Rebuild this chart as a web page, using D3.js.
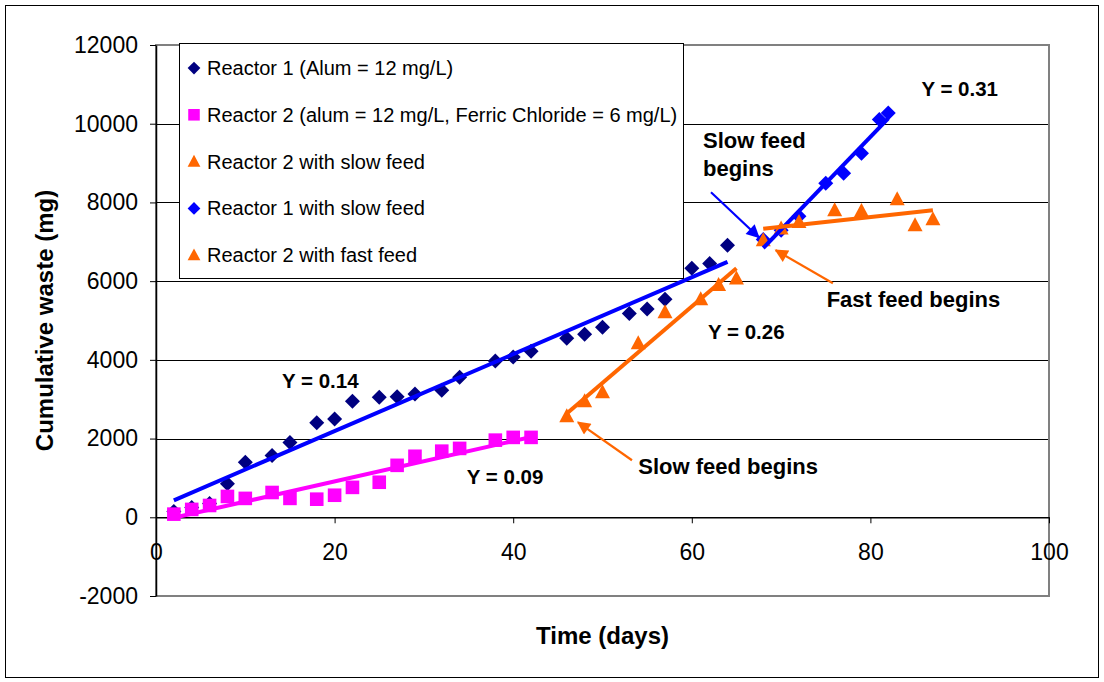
<!DOCTYPE html>
<html>
<head>
<meta charset="utf-8">
<script src="https://cdn.jsdelivr.net/npm/d3@7"></script>
<style>
  html, body { margin: 0; padding: 0; background: #fff; }
  svg { display: block; font-family: "Liberation Sans", Arial, sans-serif; }
</style>
</head>
<body>
<svg id="chart" width="1104" height="682"></svg>
<script>
// Cumulative waste vs time, five series + linear trendlines

const days1  = [2, 4, 6, 8, 10, 13, 15, 18, 20, 22, 25, 27, 29, 32, 34, 38, 40, 42, 46, 48, 50, 53, 55, 57, 60, 62, 64];
const waste1 = [150, 250, 350, 850, 1400, 1570, 1900, 2400, 2500, 2950, 3050, 3060, 3130, 3230, 3560, 3970, 4070, 4220, 4550, 4650, 4830, 5180, 5290, 5540, 6330, 6450, 6910];

const days2  = [2, 4, 6, 8, 10, 13, 15, 18, 20, 22, 25, 27, 29, 32, 34, 38, 40, 42];
const waste2 = [80, 200, 300, 530, 480, 630, 480, 460, 560, 760, 890, 1320, 1550, 1680, 1750, 1960, 2030, 2030];

const daysSlow2  = [46, 48, 50, 54, 57, 61, 63, 65];
const wasteSlow2 = [2570, 2950, 3180, 4420, 5210, 5540, 5900, 6070];

const daysSlow1  = [68, 70, 72, 75, 77, 79, 81, 82];
const wasteSlow1 = [7060, 7290, 7650, 8490, 8740, 9250, 10110, 10270];

const daysFast2  = [68, 70, 72, 76, 79, 83, 85, 87];
const wasteFast2 = [7040, 7340, 7500, 7800, 7780, 8080, 7420, 7570];

const seriesNames = [
  'Reactor 1 (Alum = 12 mg/L)',
  'Reactor 2 (alum = 12 mg/L, Ferric Chloride = 6 mg/L)',
  'Reactor 2 with slow feed',
  'Reactor 1 with slow feed',
  'Reactor 2 with fast feed'
];

const xTicks = [0, 20, 40, 60, 80, 100];
const yTicks = [-2000, 0, 2000, 4000, 6000, 8000, 10000, 12000];

// annotations, in data units (day, mg)
const slopeLabels = [
  { text: 'Y = 0.14', day: 18.4, mg: 3456 },
  { text: 'Y = 0.09', day: 39.1, mg: 1017 },
  { text: 'Y = 0.26', day: 66.1, mg: 4701 },
  { text: 'Y = 0.31', day: 90.0, mg: 10877 }
];
const noteLabels = [
  { text: 'Slow feed', day: 61.25, mg: 9377 },
  { text: 'begins',    day: 61.25, mg: 8666 },
  { text: 'Fast feed begins', day: 75.1, mg: 5337 },
  { text: 'Slow feed begins', day: 54.0, mg: 1093 }
];
const arrows = [
  { from: [62.15, 8259], to: [67.5, 7116], color: '#0000FF' },
  { from: [75.8, 5947],  to: [69.4, 6785], color: '#FF6600' },
  { from: [53.3, 1449],  to: [47.26, 2414], color: '#FF6600' }
];

const NAVY = '#000080', MAGENTA = '#FF00FF', ORANGE = '#FF6600', BLUE = '#0000FF';

const series = [
  { name: seriesNames[0], xs: days1,     ys: waste1,     shape: 'diamond',  color: NAVY,    line: BLUE },
  { name: seriesNames[1], xs: days2,     ys: waste2,     shape: 'square',   color: MAGENTA, line: MAGENTA },
  { name: seriesNames[2], xs: daysSlow2, ys: wasteSlow2, shape: 'triangle', color: ORANGE,  line: ORANGE },
  { name: seriesNames[3], xs: daysSlow1, ys: wasteSlow1, shape: 'diamond',  color: BLUE,    line: BLUE },
  { name: seriesNames[4], xs: daysFast2, ys: wasteFast2, shape: 'triangle', color: ORANGE,  line: ORANGE }
];

const svg = d3.select('#chart');
const plot = { left: 156, right: 1049, top: 45, bottom: 596 };

const x = d3.scaleLinear().domain([0, 100]).range([plot.left, plot.right]);
const y = d3.scaleLinear().domain([-2000, 12000]).range([plot.bottom, plot.top]);

// outer frame
svg.append('rect')
  .attr('x', 5.5).attr('y', 5.5).attr('width', 1093).attr('height', 672)
  .attr('fill', '#fff').attr('stroke', '#000').attr('stroke-width', 1);

// gridlines
svg.append('g')
  .selectAll('line')
  .data(yTicks.filter(v => v > -2000))
  .join('line')
  .attr('x1', plot.left).attr('x2', plot.right)
  .attr('y1', d => Math.round(y(d)) + 0.5).attr('y2', d => Math.round(y(d)) + 0.5)
  .attr('stroke', '#000').attr('stroke-width', 1);

// plot area border
svg.append('rect')
  .attr('x', plot.left).attr('y', plot.top)
  .attr('width', plot.right - plot.left).attr('height', plot.bottom - plot.top)
  .attr('fill', 'none').attr('stroke', '#808080').attr('stroke-width', 2);

// y axis
const yAxis = svg.append('g')
  .attr('transform', `translate(${plot.left},0)`)
  .call(d3.axisLeft(y).tickValues(yTicks).tickFormat(d => String(d))
    .tickSize(6).tickSizeOuter(0).tickPadding(12));
yAxis.select('.domain').attr('stroke', '#000').attr('stroke-width', 1.5);
yAxis.selectAll('.tick line').attr('stroke', '#000');
yAxis.selectAll('text')
  .attr('font-family', '"Liberation Sans", Arial, sans-serif')
  .attr('font-size', 23).attr('fill', '#000');

// x axis at y = 0
const xAxis = svg.append('g')
  .attr('transform', `translate(0,${y(0)})`)
  .call(d3.axisBottom(x).tickValues(xTicks).tickFormat(d => String(d))
    .tickSize(6).tickSizeOuter(0));
xAxis.select('.domain').attr('stroke', '#000').attr('stroke-width', 1.5);
xAxis.selectAll('.tick line').attr('stroke', '#000');
xAxis.selectAll('text')
  .attr('y', 35).attr('dy', '0.35em')
  .attr('font-family', '"Liberation Sans", Arial, sans-serif')
  .attr('font-size', 23).attr('fill', '#000');

// axis titles
svg.append('text')
  .attr('x', (plot.left + plot.right) / 2).attr('y', 636).attr('dy', '0.35em')
  .attr('text-anchor', 'middle')
  .attr('font-size', 24).attr('font-weight', 'bold')
  .text('Time (days)');

svg.append('text')
  .attr('transform', `translate(45,${(plot.top + plot.bottom) / 2}) rotate(-90)`)
  .attr('dy', '0.35em')
  .attr('text-anchor', 'middle')
  .attr('font-size', 24).attr('font-weight', 'bold')
  .text('Cumulative waste (mg)');

// marker shapes
function markerPath(shape, s = 1) {
  if (shape === 'diamond')  return `M0,${-7.5 * s}L${7.5 * s},0L0,${7.5 * s}L${-7.5 * s},0Z`;
  if (shape === 'square')   return `M${-6.8 * s},${-6.8 * s}h${13.6 * s}v${13.6 * s}h${-13.6 * s}Z`;
  return `M0,${-8 * s}L${7.5 * s},${6 * s}L${-7.5 * s},${6 * s}Z`;
}

// least squares fit
function fit(xs, ys) {
  const mx = d3.mean(xs), my = d3.mean(ys);
  const b = d3.sum(xs, (v, i) => (v - mx) * (ys[i] - my)) / d3.sum(xs, v => (v - mx) ** 2);
  return { b, a: my - b * mx };
}

const markers = svg.append('g');
series.forEach(s => {
  markers.append('g')
    .selectAll('path')
    .data(s.xs.map((d, i) => [d, s.ys[i]]))
    .join('path')
    .attr('d', markerPath(s.shape))
    .attr('transform', d => `translate(${x(d[0])},${y(d[1])})`)
    .attr('fill', s.color);
});

const trends = svg.append('g');
series.forEach(s => {
  const f = fit(s.xs, s.ys);
  const x0 = d3.min(s.xs), x1 = d3.max(s.xs);
  trends.append('line')
    .attr('x1', x(x0)).attr('y1', y(f.a + f.b * x0))
    .attr('x2', x(x1)).attr('y2', y(f.a + f.b * x1))
    .attr('stroke', s.line).attr('stroke-width', 4);
});

// legend
const legend = svg.append('g');
legend.append('rect')
  .attr('x', 179.5).attr('y', 43.5).attr('width', 504).attr('height', 235)
  .attr('fill', '#fff').attr('stroke', '#000').attr('stroke-width', 1);
const rows = legend.selectAll('g.row')
  .data(series)
  .join('g')
  .attr('class', 'row')
  .attr('transform', (d, i) => `translate(194,${68 + i * 46.8})`);
rows.append('path')
  .attr('d', d => markerPath(d.shape, 0.85))
  .attr('fill', d => d.color);
rows.append('text')
  .attr('x', 13).attr('dy', '0.35em')
  .attr('font-size', 20)
  .text(d => d.name);

// annotation arrows
const defs = svg.append('defs');
arrows.forEach((a, i) => {
  defs.append('marker')
    .attr('id', 'ah' + i)
    .attr('viewBox', '0 0 10 10').attr('refX', 9).attr('refY', 5)
    .attr('markerWidth', 7).attr('markerHeight', 6).attr('markerUnits', 'strokeWidth')
    .attr('orient', 'auto')
    .append('path').attr('d', 'M0,0L10,5L0,10Z').attr('fill', a.color);
});
svg.append('g')
  .selectAll('line')
  .data(arrows)
  .join('line')
  .attr('x1', d => x(d.from[0])).attr('y1', d => y(d.from[1]))
  .attr('x2', d => x(d.to[0])).attr('y2', d => y(d.to[1]))
  .attr('stroke', d => d.color).attr('stroke-width', 2.2)
  .attr('marker-end', (d, i) => `url(#ah${i})`);

// annotation texts
svg.append('g')
  .selectAll('text')
  .data(slopeLabels)
  .join('text')
  .attr('x', d => x(d.day)).attr('y', d => y(d.mg)).attr('dy', '0.35em')
  .attr('text-anchor', 'middle')
  .attr('font-size', 20.5).attr('font-weight', 'bold')
  .text(d => d.text);

svg.append('g')
  .selectAll('text')
  .data(noteLabels)
  .join('text')
  .attr('x', d => x(d.day)).attr('y', d => y(d.mg))
  .attr('font-size', 22).attr('font-weight', 'bold')
  .text(d => d.text);
</script>
</body>
</html>
